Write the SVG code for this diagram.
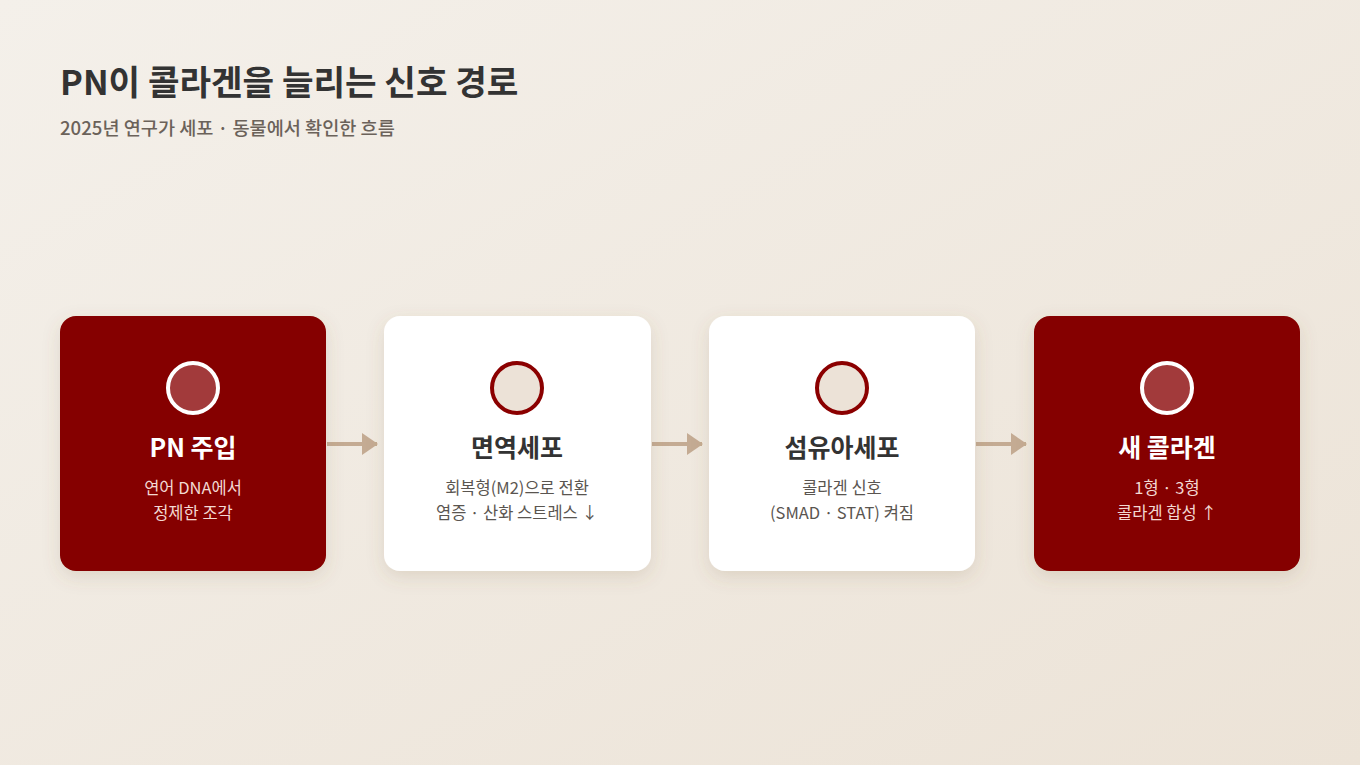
<svg xmlns="http://www.w3.org/2000/svg" width="1360" height="765" viewBox="0 0 1360 765">
<defs>
<linearGradient id="bg" x1="0" y1="0" x2="1" y2="1">
<stop offset="0" stop-color="#f4f0ea"/>
<stop offset="1" stop-color="#ece3d7"/>
</linearGradient>
<filter id="sh" x="-20%" y="-20%" width="140%" height="150%">
<feDropShadow dx="0" dy="6" stdDeviation="9" flood-color="#7a5f40" flood-opacity="0.16"/>
</filter>
<marker id="ah" markerWidth="16" markerHeight="22" refX="15" refY="11" orient="auto" markerUnits="userSpaceOnUse">
<path d="M0,0 L16,11 L0,22 Z" fill="#c4ab93"/>
</marker>
<style>
text{font-family:"Noto Sans CJK KR","Noto Sans",sans-serif;text-anchor:middle}
.card-r{fill:#850000}
.card-w{fill:#ffffff}
.ic-r{fill:#a23a3b;stroke:#ffffff;stroke-width:4}
.ic-w{fill:#ece2d7;stroke:#8b0000;stroke-width:4}
.t-r{fill:#ffffff;font-size:25px;font-weight:700}
.t-w{fill:#333333;font-size:25px;font-weight:700}
.s-r{fill:#f3d9d3;font-size:16.5px}
.s-w{fill:#5a5550;font-size:16.5px}
.conn{stroke:#c4ab93;stroke-width:4;fill:none}
</style>
</defs>
<rect width="1360" height="765" fill="url(#bg)"/>
<text x="60" y="95" style="text-anchor:start;font-size:34.3px;font-weight:700;fill:#333333">PN이 콜라겐을 늘리는 신호 경로</text>
<text x="60" y="135" style="text-anchor:start;font-size:18.6px;font-weight:500;fill:#6b625a">2025년 연구가 세포 · 동물에서 확인한 흐름</text>

<g id="connectors">
<line class="conn" x1="327" y1="444" x2="377" y2="444" marker-end="url(#ah)"/>
<line class="conn" x1="652" y1="444" x2="702" y2="444" marker-end="url(#ah)"/>
<line class="conn" x1="976" y1="444" x2="1026" y2="444" marker-end="url(#ah)"/>
</g>

<g id="node-pn">
<rect class="card-r" x="60" y="316" width="266" height="255" rx="16" filter="url(#sh)"/>
<circle class="ic-r" cx="193" cy="388" r="25"/>
<text class="t-r" x="193" y="457">PN 주입</text>
<text class="s-r" x="193" y="494">연어 DNA에서</text>
<text class="s-r" x="193" y="519">정제한 조각</text>
</g>

<g id="node-immune">
<rect class="card-w" x="384" y="316" width="267" height="255" rx="16" filter="url(#sh)"/>
<circle class="ic-w" cx="517" cy="388" r="25"/>
<text class="t-w" x="517" y="457">면역세포</text>
<text class="s-w" x="517" y="494">회복형(M2)으로 전환</text>
<text class="s-w" x="517" y="519">염증 · 산화 스트레스 ↓</text>
</g>

<g id="node-fibro">
<rect class="card-w" x="709" y="316" width="266" height="255" rx="16" filter="url(#sh)"/>
<circle class="ic-w" cx="842" cy="388" r="25"/>
<text class="t-w" x="842" y="457">섬유아세포</text>
<text class="s-w" x="842" y="494">콜라겐 신호</text>
<text class="s-w" x="842" y="519">(SMAD · STAT) 켜짐</text>
</g>

<g id="node-collagen">
<rect class="card-r" x="1034" y="316" width="266" height="255" rx="16" filter="url(#sh)"/>
<circle class="ic-r" cx="1167" cy="388" r="25"/>
<text class="t-r" x="1167" y="457">새 콜라겐</text>
<text class="s-r" x="1167" y="494">1형 · 3형</text>
<text class="s-r" x="1167" y="519">콜라겐 합성 ↑</text>
</g>
</svg>
